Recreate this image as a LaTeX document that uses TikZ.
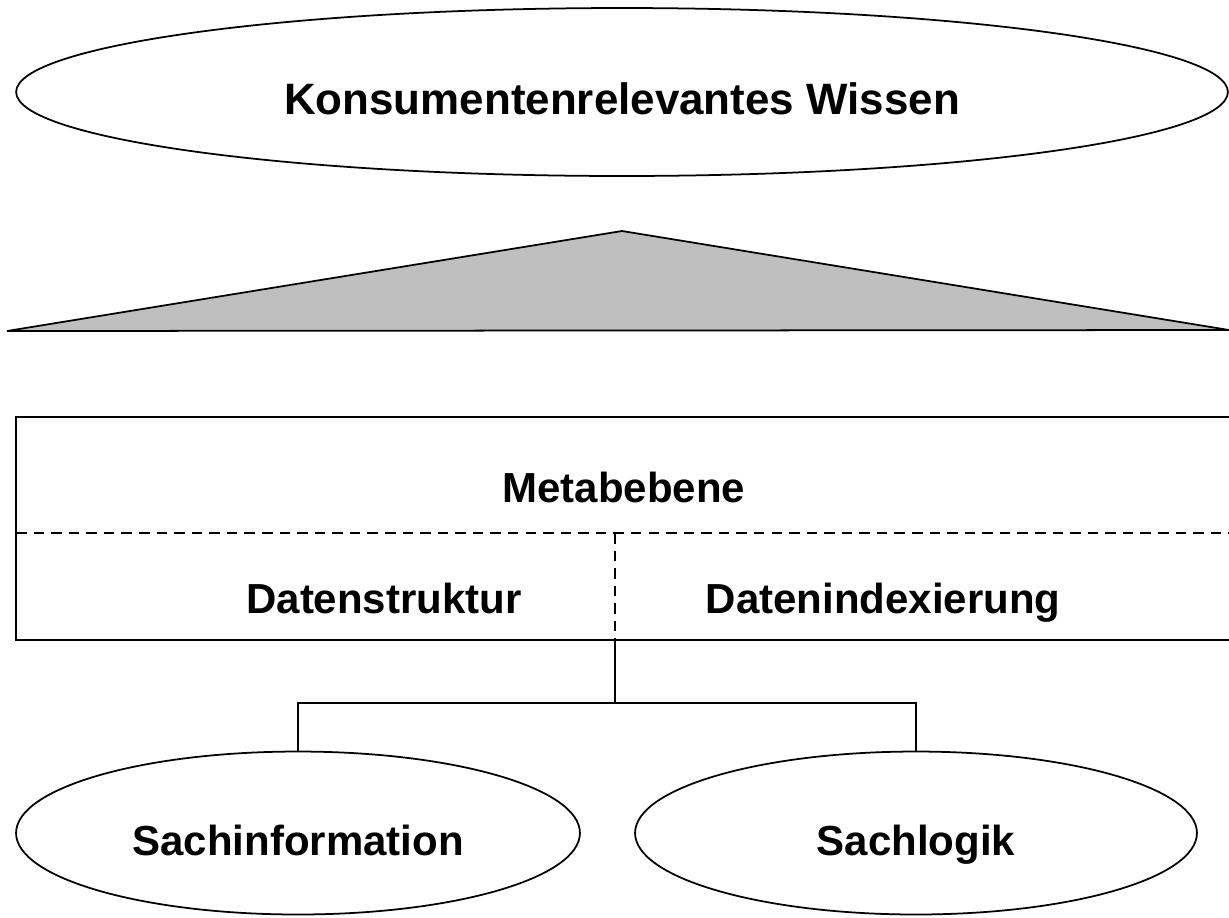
\documentclass[tikz,border=0pt]{standalone}
\usepackage{fontspec}
\setmainfont{Liberation Sans}
\usetikzlibrary{shapes.geometric}

\begin{document}
\begin{tikzpicture}[x=0.02cm,y=-0.02cm,line width=1pt,
	    every node/.style={font=\fontsize{23.9}{28}\selectfont\bfseries},
	    oval/.style={draw,ellipse,inner sep=0pt,text height=26pt,text depth=0pt},
	    lbl/.style={anchor=base}]
	    \useasboundingbox (0,0) rectangle (1229,917);
	    \node[oval,minimum width=24.24cm,minimum height=3.36cm,font=\fontsize{25}{30}\selectfont\bfseries] (wissen) at (622,92) {Konsumentenrelevantes Wissen};
	    \draw[fill=black!25] (7,331) -- (622,231) -- (1229,330) -- cycle;
	    % Metaebene
	    \draw (1229,417) -- (16,417) -- (16,640) -- (1229,640);
	    \draw[dash pattern=on 6pt off 4pt] (16,533) -- (1229,533) (615,533) -- (615,640);
	    \node[lbl] (meta) at (624,502) {Metabebene};
	    \node[lbl] (struktur) at (384,613) {Datenstruktur};
	    \node[lbl] (index) at (883,613) {Datenindexierung};
	    % Sachebene
	    \node[oval,minimum width=11.28cm,minimum height=3.26cm] (info) at (298,833) {Sachinformation};
	    \node[oval,minimum width=11.24cm,minimum height=3.26cm] (logik) at (916,833) {Sachlogik};
	    \coordinate (metabot) at (615,640);
	    \coordinate (fork) at (615,703);
	    \draw (metabot) -- (fork);
	    \draw (info.north) |- (fork) -| (logik.north);
	  \end{tikzpicture}
\end{document}
